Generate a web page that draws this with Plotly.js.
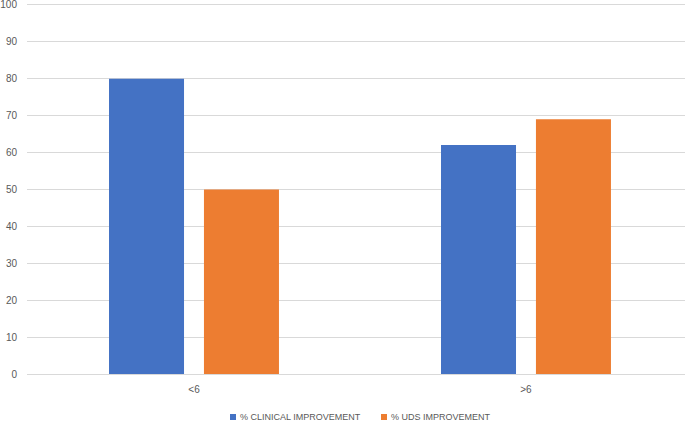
<!DOCTYPE html>
<html>
<head>
<meta charset="utf-8">
<script src="https://cdn.plot.ly/plotly-3.0.1.min.js"></script>
<style>html,body{margin:0;padding:0;background:#fff;}#chart{width:685px;height:423px;}</style>
</head>
<body>
<div id="chart"></div>
<script>
const categories = ["<6", ">6"];
const clinicalImprovement = [80, 62];
const udsImprovement = [50, 69];
const seriesNames = ["% CLINICAL IMPROVEMENT", "% UDS IMPROVEMENT"];
const seriesColors = ["#4472c4", "#ed7d31"];

const traces = [
  {type: "bar", x: categories, y: clinicalImprovement, name: seriesNames[0],
   marker: {color: seriesColors[0]}, hoverinfo: "none"},
  {type: "bar", x: categories, y: udsImprovement, name: seriesNames[1],
   marker: {color: seriesColors[1]}, hoverinfo: "none"}
];

// plot area: left 27px, right 685px, top 3px, bottom 374px
const PL = 27, PW = 658, PB = 374, PH = 371;
const px = v => (v - PL) / PW;
const py = v => (PB - v) / PH;

const legendX = [230, 381];
const shapes = legendX.map((x, i) => ({
  type: "rect", xref: "paper", yref: "paper",
  x0: px(x), x1: px(x + 6), y0: py(420), y1: py(414),
  fillcolor: seriesColors[i], line: {width: 0}
}));
const annotations = legendX.map((x, i) => ({
  xref: "paper", yref: "paper", x: px(x + 8), y: py(417),
  xanchor: "left", yanchor: "middle", showarrow: false,
  text: seriesNames[i], font: {size: 9, color: "#595959"}
}));

const layout = {
  width: 685, height: 423,
  margin: {l: 27, r: 0, t: 3, b: 49, pad: 0, autoexpand: false},
  paper_bgcolor: "#ffffff", plot_bgcolor: "#ffffff",
  barmode: "group", bargap: 0.428, bargroupgap: 0.21,
  font: {family: "Liberation Sans, Arial, sans-serif", size: 10, color: "#595959"},
  xaxis: {type: "category", range: [-0.503, 1.479], showgrid: false, zeroline: false, showline: false,
    ticks: "", tickfont: {size: 10, color: "#595959"}, ticklabelstandoff: 8},
  yaxis: {range: [0, 100.5], tickvals: [0,10,20,30,40,50,60,70,80,90,100], showgrid: true, gridcolor: "#d9d9d9", gridwidth: 1,
    zeroline: true, zerolinecolor: "#d9d9d9", zerolinewidth: 1, showline: false,
    ticks: "", tickfont: {size: 10, color: "#595959"}, ticklabelstandoff: 9,
    ticklabeloverflow: "allow"},
  showlegend: false,
  shapes: shapes,
  annotations: annotations
};

Plotly.newPlot("chart", traces, layout, {staticPlot: true, displayModeBar: false});
</script>
</body>
</html>
